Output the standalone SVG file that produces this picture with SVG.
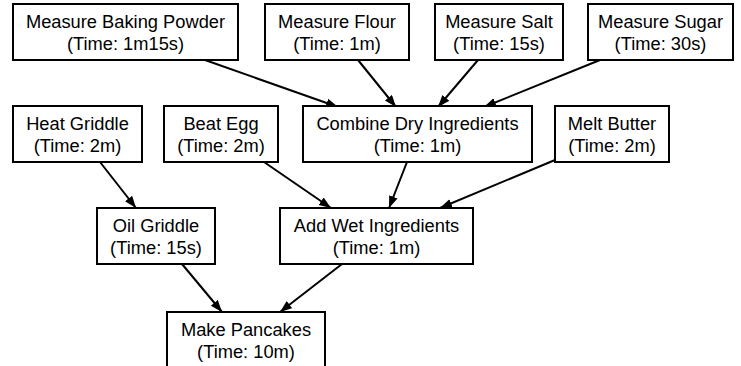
<svg xmlns="http://www.w3.org/2000/svg" width="741" height="366" viewBox="0 0 741 366">
<style>
.n rect{fill:#fff;stroke:#000;stroke-width:2}
.n text{font-family:"Liberation Sans",Arial,sans-serif;font-size:18.3px;fill:#000;text-anchor:middle}
.e line{stroke:#000;stroke-width:2;marker-end:url(#ah)}
</style>
<defs>
<marker id="ah" markerUnits="userSpaceOnUse" markerWidth="13" markerHeight="10" refX="12" refY="4.5" orient="auto">
<path d="M0,0 L12,4.5 L0,9 z" fill="#000"/>
</marker>
</defs>
<rect width="741" height="366" fill="#fff"/>
<g id="edges" class="e">
<line x1="205" y1="60" x2="338" y2="107"/>
<line x1="358" y1="60" x2="396" y2="107"/>
<line x1="478" y1="60" x2="438" y2="107"/>
<line x1="600" y1="60" x2="484" y2="107"/>
<line x1="100" y1="162" x2="136" y2="208"/>
<line x1="264" y1="162" x2="331" y2="208"/>
<line x1="407" y1="162" x2="389" y2="208"/>
<line x1="555" y1="160" x2="440" y2="208"/>
<line x1="182" y1="264" x2="222" y2="312"/>
<line x1="342" y1="264" x2="280" y2="312"/>
</g>
<g id="n_bakingpowder" class="n"><rect x="13" y="4" width="225" height="56"/><text x="125.5" y="28">Measure Baking Powder</text><text x="125.5" y="50">(Time: 1m15s)</text></g>
<g id="n_flour" class="n"><rect x="265" y="4" width="144" height="56"/><text x="337" y="28">Measure Flour</text><text x="337" y="50">(Time: 1m)</text></g>
<g id="n_salt" class="n"><rect x="435" y="4" width="128" height="56"/><text x="499" y="28">Measure Salt</text><text x="499" y="50">(Time: 15s)</text></g>
<g id="n_sugar" class="n"><rect x="588" y="4" width="145" height="56"/><text x="660.5" y="28">Measure Sugar</text><text x="660.5" y="50">(Time: 30s)</text></g>
<g id="n_heatgriddle" class="n"><rect x="13" y="106" width="129" height="56"/><text x="77.5" y="130">Heat Griddle</text><text x="77.5" y="152">(Time: 2m)</text></g>
<g id="n_beategg" class="n"><rect x="164" y="106" width="114" height="56"/><text x="221" y="130">Beat Egg</text><text x="221" y="152">(Time: 2m)</text></g>
<g id="n_combinedry" class="n"><rect x="303" y="106" width="229" height="56"/><text x="417.5" y="130">Combine Dry Ingredients</text><text x="417.5" y="152">(Time: 1m)</text></g>
<g id="n_meltbutter" class="n"><rect x="555" y="106" width="114" height="56"/><text x="612" y="130">Melt Butter</text><text x="612" y="152">(Time: 2m)</text></g>
<g id="n_oilgriddle" class="n"><rect x="97" y="208" width="118" height="56"/><text x="156" y="232">Oil Griddle</text><text x="156" y="254">(Time: 15s)</text></g>
<g id="n_addwet" class="n"><rect x="280" y="208" width="193" height="56"/><text x="376.5" y="232">Add Wet Ingredients</text><text x="376.5" y="254">(Time: 1m)</text></g>
<g id="n_makepancakes" class="n"><rect x="167" y="312" width="158" height="56"/><text x="246" y="336">Make Pancakes</text><text x="246" y="358">(Time: 10m)</text></g>
</svg>
